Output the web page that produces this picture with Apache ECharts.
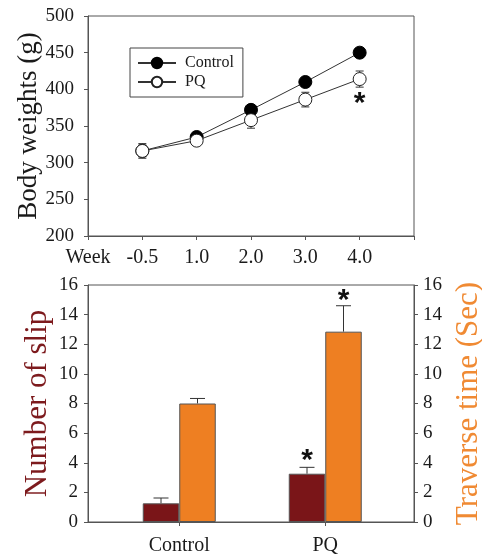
<!DOCTYPE html>
<html>
<head>
<meta charset="utf-8">
<script src="https://cdn.jsdelivr.net/npm/echarts@6/dist/echarts.min.js"></script>
<style>html,body{margin:0;padding:0;background:#fff;}#c{width:482px;height:560px;}</style>
</head>
<body>
<div id="c"></div>
<script>
// ---- data ----
const weeks = ['-0.5', '1.0', '2.0', '3.0', '4.0'];
const weekAxisLabels = ['Week', '-0.5', '1.0', '2.0', '3.0', '4.0', ''];
const controlWeight = [316, 335, 372, 410, 450];
const controlWeightErr = [8, 5, 5, 5, 5];
const pqWeight = [316, 330, 358, 386, 414];
const pqWeightErr = [10, 5, 11, 10, 11];
const weightStars = [['4.0', 387]];

const groups = ['Control', 'PQ'];
const slips = [1.26, 3.26];
const slipsErr = [0.36, 0.43];
const traverse = [8.0, 12.85];
const traverseErr = [0.34, 1.75];
const slipStars = [['PQ', 4.45]];
const traverseStars = [['PQ', 15.3]];

// ---- style ----
const FONT = 'Liberation Serif';
const AXIS = '#555';
const TXT = '#1a1a1a';
const RED = '#7a1518';
const ORANGE = '#ee7f22';
const BAR_W = 36.5;

const chart = echarts.init(document.getElementById('c'), null, {renderer: 'canvas'});

function errRender(capW, dx, upOnly) {
  return function (params, api) {
    const x = api.value(0), lo = api.value(1), hi = api.value(2);
    const pl = api.coord([x, lo]), ph = api.coord([x, hi]);
    const cx = pl[0] + dx;
    const st = {stroke: '#333', lineWidth: 1};
    const children = [
      {type: 'line', shape: {x1: cx, y1: pl[1], x2: cx, y2: ph[1]}, style: st},
      {type: 'line', shape: {x1: cx - capW / 2, y1: ph[1], x2: cx + capW / 2, y2: ph[1]}, style: st}
    ];
    if (!upOnly) children.push({type: 'line', shape: {x1: cx - capW / 2, y1: pl[1], x2: cx + capW / 2, y2: pl[1]}, style: st});
    return {type: 'group', children: children};
  };
}
function starRender(dx) {
  return function (params, api) {
    const p = api.coord([api.value(0), api.value(1)]);
    return {type: 'text', x: p[0] + dx, y: p[1] + 5, style: {text: '*', font: 'bold 30px "Liberation Sans"', fill: '#111', align: 'center', verticalAlign: 'middle'}};
  };
}

const hiddenAxis = {show: false};

const option = {
  animation: false,
  backgroundColor: '#fff',
  grid: [
    {left: 88, top: 16, width: 326, height: 220, show: true, borderColor: AXIS, borderWidth: 1, outerBoundsMode: 'none', containLabel: false},
    {left: 88, top: 285, width: 326, height: 237, show: true, borderColor: AXIS, borderWidth: 1, outerBoundsMode: 'none', containLabel: false},
    {left: 106.25, top: 285, width: 292, height: 237, show: false, outerBoundsMode: 'none', containLabel: false}
  ],
  legend: {
    left: 130, top: 48, orient: 'vertical',
    data: ['Control', 'PQ'],
    borderColor: '#444', borderWidth: 1, padding: [7, 9, 7, 7],
    itemWidth: 38, itemHeight: 13, itemGap: 3,
    textStyle: {fontFamily: FONT, fontSize: 16, color: TXT, padding: [0, 0, 0, 4]}
  },
  xAxis: [
    {
      gridIndex: 0, type: 'category', data: weekAxisLabels, boundaryGap: false,
      axisLine: {lineStyle: {color: AXIS}},
      axisTick: {show: true, length: 4, lineStyle: {color: AXIS}},
      axisLabel: {interval: 0, margin: 12, fontFamily: FONT, fontSize: 20, color: TXT},
      splitLine: {show: false}
    },
    {
      gridIndex: 1, type: 'category', data: groups,
      axisLine: {lineStyle: {color: AXIS}},
      axisTick: {show: false}, axisLabel: {show: false}, splitLine: {show: false}
    },
    {
      gridIndex: 2, type: 'category', data: groups,
      axisLine: {show: false},
      axisTick: {show: true, alignWithLabel: true, length: 4, lineStyle: {color: AXIS}},
      axisLabel: {margin: 14, fontFamily: FONT, fontSize: 20, color: TXT},
      splitLine: {show: false}
    }
  ],
  yAxis: [
    {
      gridIndex: 0, type: 'value', min: 200, max: 500, interval: 50,
      name: 'Body weights (g)', nameLocation: 'middle', nameGap: 46, nameMoveOverlap: false,
      nameTextStyle: {fontFamily: FONT, fontSize: 27, color: TXT},
      axisLine: {show: true, lineStyle: {color: AXIS}},
      axisTick: {show: true, length: 4, lineStyle: {color: AXIS}},
      axisLabel: {margin: 14, fontFamily: FONT, fontSize: 19, color: TXT},
      splitLine: {show: false}
    },
    {
      gridIndex: 1, type: 'value', min: 0, max: 16, interval: 2, position: 'left',
      name: 'Number of slip', nameLocation: 'middle', nameGap: 35, nameMoveOverlap: false,
      nameTextStyle: {fontFamily: FONT, fontSize: 31, color: '#7d1a1d'},
      axisLine: {show: true, lineStyle: {color: AXIS}},
      axisTick: {show: true, length: 4, lineStyle: {color: AXIS}},
      axisLabel: {margin: 10, fontFamily: FONT, fontSize: 19, color: TXT},
      splitLine: {show: false}
    },
    {
      gridIndex: 1, type: 'value', min: 0, max: 16, interval: 2, position: 'right',
      name: 'Traverse time (Sec)', nameLocation: 'middle', nameGap: 39, nameMoveOverlap: false,
      nameTextStyle: {fontFamily: FONT, fontSize: 31, color: '#f08a33'},
      axisLine: {show: true, lineStyle: {color: AXIS}},
      axisTick: {show: true, length: 4, lineStyle: {color: AXIS}},
      axisLabel: {margin: 9, fontFamily: FONT, fontSize: 19, color: TXT},
      splitLine: {show: false}
    },
    Object.assign({gridIndex: 2, type: 'value', min: 0, max: 16, interval: 2}, hiddenAxis),
    Object.assign({gridIndex: 2, type: 'value', min: 0, max: 16, interval: 2}, hiddenAxis)
  ],
  series: [
    {type: 'custom', xAxisIndex: 0, yAxisIndex: 0, z: 1, silent: true,
      renderItem: errRender(8, 0, false), encode: {x: 0, y: [1, 2]},
      data: weeks.map((w, i) => [w, controlWeight[i] - controlWeightErr[i], controlWeight[i] + controlWeightErr[i]])},
    {type: 'custom', xAxisIndex: 0, yAxisIndex: 0, z: 1, silent: true,
      renderItem: errRender(8, 0, false), encode: {x: 0, y: [1, 2]},
      data: weeks.map((w, i) => [w, pqWeight[i] - pqWeightErr[i], pqWeight[i] + pqWeightErr[i]])},
    {name: 'Control', type: 'line', xAxisIndex: 0, yAxisIndex: 0, z: 2,
      data: weeks.map((w, i) => [w, controlWeight[i]]),
      symbol: 'circle', symbolSize: 13,
      lineStyle: {color: '#333', width: 1},
      itemStyle: {color: '#000', borderColor: '#000', borderWidth: 1}},
    {name: 'PQ', type: 'line', xAxisIndex: 0, yAxisIndex: 0, z: 3,
      data: weeks.map((w, i) => [w, pqWeight[i]]),
      symbol: 'circle', symbolSize: 13,
      lineStyle: {color: '#333', width: 1},
      itemStyle: {color: '#fff', borderColor: '#222', borderWidth: 1}},
    {type: 'custom', xAxisIndex: 0, yAxisIndex: 0, z: 4, silent: true,
      renderItem: starRender(0), encode: {x: 0, y: 1}, data: weightStars},
    {name: 'Number of slip', type: 'bar', xAxisIndex: 2, yAxisIndex: 3,
      barWidth: BAR_W, barGap: '0%',
      data: slips,
      itemStyle: {color: RED, borderColor: '#555', borderWidth: 1}},
    {name: 'Traverse time', type: 'bar', xAxisIndex: 2, yAxisIndex: 4,
      barWidth: BAR_W, barGap: '0%',
      data: traverse,
      itemStyle: {color: ORANGE, borderColor: '#555', borderWidth: 1}},
    {type: 'custom', xAxisIndex: 2, yAxisIndex: 3, z: 1, silent: true,
      renderItem: errRender(15, -BAR_W / 2, true), encode: {x: 0, y: [1, 2]},
      data: groups.map((g, i) => [g, slips[i], slips[i] + slipsErr[i]])},
    {type: 'custom', xAxisIndex: 2, yAxisIndex: 4, z: 1, silent: true,
      renderItem: errRender(15, BAR_W / 2, true), encode: {x: 0, y: [1, 2]},
      data: groups.map((g, i) => [g, traverse[i], traverse[i] + traverseErr[i]])},
    {type: 'custom', xAxisIndex: 2, yAxisIndex: 3, z: 4, silent: true,
      renderItem: starRender(-BAR_W / 2), encode: {x: 0, y: 1}, data: slipStars},
    {type: 'custom', xAxisIndex: 2, yAxisIndex: 4, z: 4, silent: true,
      renderItem: starRender(BAR_W / 2), encode: {x: 0, y: 1}, data: traverseStars}
  ]
};
chart.setOption(option);
</script>
</body>
</html>
